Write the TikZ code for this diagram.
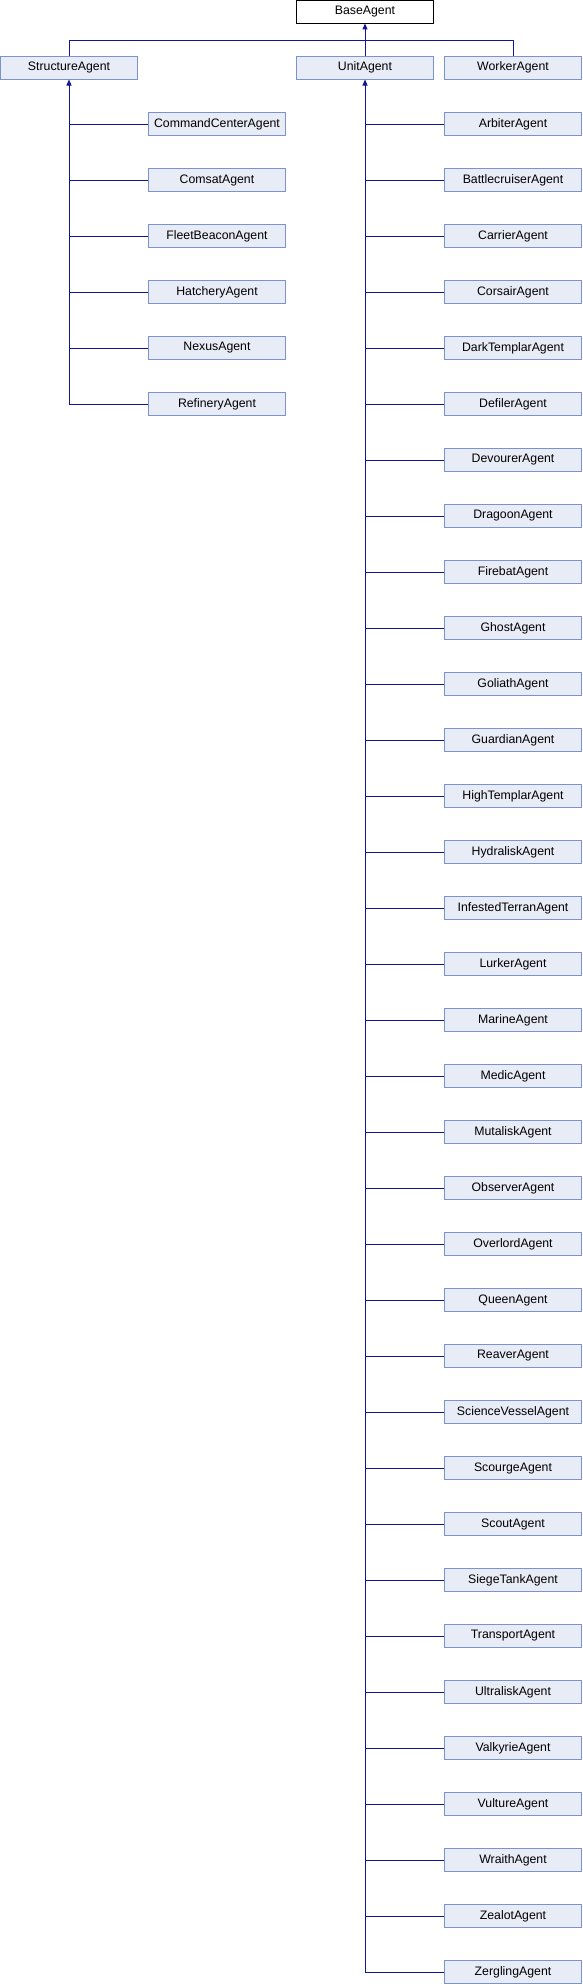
\documentclass[tikz,border=0pt]{standalone}
\usepackage{fontspec}
\setmainfont{Liberation Sans}
\usetikzlibrary{arrows.meta}
\definecolor{edgecol}{RGB}{20,20,150}
\definecolor{boxfill}{RGB}{232,236,246}
\definecolor{boxline}{RGB}{123,147,204}
\tikzset{
  cls/.style={draw=boxline, fill=boxfill, line width=0.9pt, minimum width=137pt, minimum height=22.5pt, inner sep=0pt, font=\fontsize{12.3}{14}\selectfont},
  basecls/.style={cls, draw=black, fill=white},
  edge/.style={draw=edgecol, line width=1pt},
  inh/.style={edge, -{Triangle[width=5pt,length=6pt]}}
}
\begin{document}
\begin{tikzpicture}[x=1pt,y=-1pt]
\useasboundingbox (0,0) rectangle (582,1984);
\node[basecls] (base) at (365,11.75) {BaseAgent};
\node[cls] (structure) at (69,67.8) {StructureAgent};
\node[cls] (unit) at (365,67.8) {UnitAgent};
\node[cls] (worker) at (513,67.8) {WorkerAgent};
\coordinate (bus) at (365,40.3);
% structure children
\foreach \n [count=\i from 0] in {CommandCenterAgent,ComsatAgent,FleetBeaconAgent,HatcheryAgent,NexusAgent,RefineryAgent}{
  \node[cls] (s\i) at (217,124+56*\i) {\n};
}
% unit children
\foreach \n [count=\i from 0] in {ArbiterAgent,BattlecruiserAgent,CarrierAgent,CorsairAgent,DarkTemplarAgent,DefilerAgent,DevourerAgent,DragoonAgent,FirebatAgent,GhostAgent,GoliathAgent,GuardianAgent,HighTemplarAgent,HydraliskAgent,InfestedTerranAgent,LurkerAgent,MarineAgent,MedicAgent,MutaliskAgent,ObserverAgent,OverlordAgent,QueenAgent,ReaverAgent,ScienceVesselAgent,ScourgeAgent,ScoutAgent,SiegeTankAgent,TransportAgent,UltraliskAgent,ValkyrieAgent,VultureAgent,WraithAgent,ZealotAgent,ZerglingAgent}{
  \node[cls] (u\i) at (513,124+56*\i) {\n};
}
% top level connectors
\draw[edge] (structure.north) |- (bus) -| (worker.north);
\draw[inh] (unit.north) -- (base.south);
% structure spine
\draw[inh] (s5.west) -| (structure.south);
\foreach \i in {0,...,4}{
  \draw[edge] (s\i.west) -- (s\i.west -| structure.south);
}
% unit spine
\draw[inh] (u33.west) -| (unit.south);
\foreach \i in {0,...,32}{
  \draw[edge] (u\i.west) -- (u\i.west -| unit.south);
}
\end{tikzpicture}
\end{document}
